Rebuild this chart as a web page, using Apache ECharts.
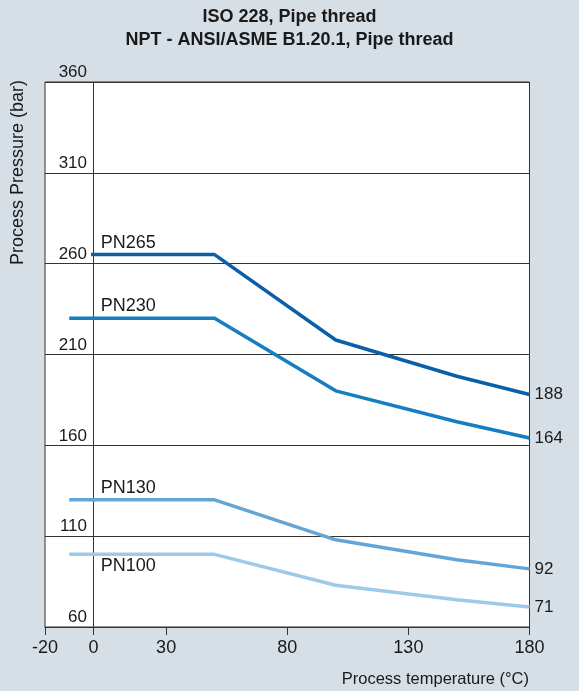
<!DOCTYPE html>
<html>
<head>
<meta charset="utf-8">
<script src="https://cdn.jsdelivr.net/npm/echarts@6/dist/echarts.min.js"></script>
<style>
html,body{margin:0;padding:0;background:#d6dee6;}
#c{width:579px;height:691px;}
</style>
</head>
<body>
<div id="c"></div>
<script>
const titleLines = ['ISO 228, Pipe thread', 'NPT - ANSI/ASME B1.20.1, Pipe thread'];
const xName = 'Process temperature (°C)';
const yName = 'Process Pressure (bar)';
const xTicks = [-20, 0, 30, 80, 130, 180];
const yTicks = [60, 110, 160, 210, 260, 310, 360];
const seriesNames = ['PN265', 'PN230', 'PN130', 'PN100'];
const temps265 = [-1, 50, 100, 150, 180];
const pn265 = [265, 265, 218, 198, 188];
const temps230 = [-10, 50, 100, 150, 180];
const pn230 = [230, 230, 190, 173, 164];
const temps130 = [-10, 50, 100, 150, 180];
const pn130 = [130, 130, 108, 97, 92];
const temps100 = [-10, 50, 100, 150, 180];
const pn100 = [100, 100, 83, 75, 71];
const labelTemp = 3;
const colors = ['#0b5ea8', '#157dc2', '#64a5d8', '#9ecae9'];

const font = 'Liberation Sans, Arial, sans-serif';
const txt = '#1a1a1a';

function pairs(xs, ys){ return xs.map((x,i)=>[x, ys[i]]); }
const sets = [[temps265,pn265],[temps230,pn230],[temps130,pn130],[temps100,pn100]];

const chart = echarts.init(document.getElementById('c'));
const series = sets.map((s, i) => ({
  name: seriesNames[i],
  type: 'line',
  data: pairs(s[0], s[1]),
  symbol: 'none',
  lineStyle: {color: colors[i], width: 3.5},
  itemStyle: {color: colors[i]},
  silent: true,
  z: 5,
  endLabel: {
    show: true,
    formatter: p => String(p.value[1]),
    distance: 5,
    fontSize: 17,
    fontFamily: font,
    color: txt
  },
  markPoint: {
    symbol: 'circle',
    symbolSize: 0,
    silent: true,
    data: [{
      coord: [labelTemp, s[1][0]],
      label: {
        show: true,
        formatter: seriesNames[i],
        position: i === 3 ? [0, 3] : [0, -3],
        align: 'left',
        verticalAlign: i === 3 ? 'top' : 'bottom',
        fontSize: 18,
        fontFamily: font,
        color: txt
      }
    }]
  }
}));
// vertical reference line at 0 °C
series.push({
  type: 'line',
  data: [],
  silent: true,
  markLine: {
    silent: true,
    symbol: 'none',
    label: {show: false},
    lineStyle: {color: '#333', width: 1, type: 'solid'},
    data: [{xAxis: 0}]
  }
});

chart.setOption({
  backgroundColor: '#d6dee6',
  animation: false,
  title: {
    text: titleLines.join('\n'),
    left: 'center',
    top: 0,
    padding: [6, 5, 5, 5],
    textStyle: {fontSize: 18, fontWeight: 'bold', fontFamily: font, color: txt, lineHeight: 23}
  },
  grid: {
    left: 45, right: 49.5, top: 82, bottom: 64,
    show: true, backgroundColor: '#ffffff', borderColor: '#333', borderWidth: 1
  },
  xAxis: {
    type: 'value',
    min: -20, max: 180, interval: 10,
    axisLine: {show: true, lineStyle: {color: '#333', width: 1}},
    axisTick: {show: true, length: 8, lineStyle: {color: '#333'}, customValues: xTicks},
    axisLabel: {customValues: xTicks, fontSize: 18, fontFamily: font, color: txt, margin: 12},
    splitLine: {show: false}
  },
  yAxis: {
    type: 'value',
    min: 60, max: 360, interval: 50,
    axisLine: {show: false},
    axisTick: {show: false},
    axisLabel: {
      inside: true, margin: 42, align: 'right', verticalAlign: 'bottom',
      fontSize: 17, fontFamily: font, color: txt, padding: [0,0,1,0]
    },
    splitLine: {show: true, lineStyle: {color: '#333', width: 1}}
  },
  graphic: [
    {
      type: 'text', x: 18, y: 80, rotation: Math.PI / 2,
      style: {text: yName, fontSize: 18, fontFamily: font, fill: txt, align: 'right', verticalAlign: 'middle'}
    },
    {
      type: 'text', x: 529, y: 679,
      style: {text: xName, fontSize: 16.5, fontFamily: font, fill: txt, align: 'right', verticalAlign: 'middle'}
    }
  ],
  series: series
});
</script>
</body>
</html>
